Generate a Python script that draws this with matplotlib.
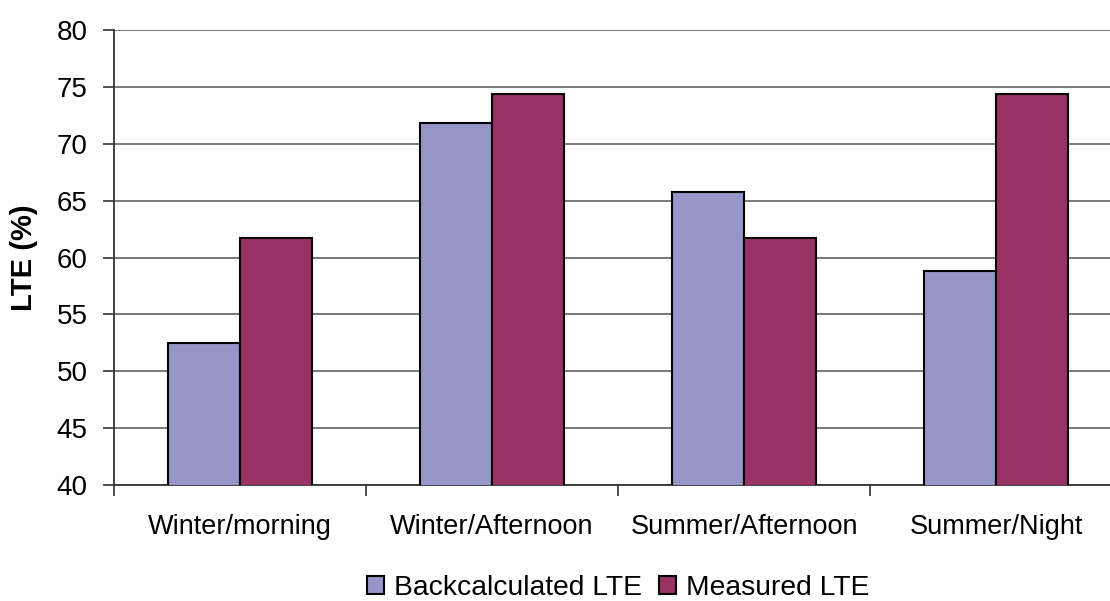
import matplotlib
matplotlib.use("Agg")
import matplotlib.pyplot as plt
import numpy as np

categories = ["Winter/morning", "Winter/Afternoon", "Summer/Afternoon", "Summer/Night"]
backcalculated = [52.5, 71.8, 65.8, 58.8]
measured = [61.7, 74.4, 61.7, 74.4]
series_names = ["Backcalculated LTE", "Measured LTE"]
y_ticks = [40, 45, 50, 55, 60, 65, 70, 75, 80]

plt.rcParams["font.family"] = ["Liberation Sans", "DejaVu Sans"]

W, H = 1110, 601
fig = plt.figure(figsize=(W / 100, H / 100), dpi=100)
ax = fig.add_axes([114 / W, (H - 485) / H, 1008 / W, 455 / H])

x = np.arange(len(categories))
bw = 0.286
ax.bar(x - bw / 2, backcalculated, width=bw, color="#9595C8", edgecolor="black",
       linewidth=1.5, zorder=3, label=series_names[0])
ax.bar(x + bw / 2, measured, width=bw, color="#993366", edgecolor="black",
       linewidth=1.5, zorder=3, label=series_names[1])

ax.set_xlim(-0.5, len(categories) - 0.5)
ax.set_ylim(40, 80)
ax.set_yticks(y_ticks)
ax.yaxis.grid(True, color="#6e6e6e", linewidth=1.3, zorder=0)
ax.set_axisbelow(True)

# category labels centred, tick marks at group boundaries
ax.set_xticks(x)
ax.set_xticklabels(categories, fontsize=19.5)
ax.set_xticks(np.arange(len(categories) + 1) - 0.5, minor=True)
ax.tick_params(axis="x", which="major", length=0, pad=21)
ax.tick_params(axis="x", which="minor", length=8, width=1.2, color="#333333")
ax.tick_params(axis="y", length=8, width=1.2, color="#333333", labelsize=20, pad=11)

for s in ["top", "right"]:
    ax.spines[s].set_visible(False)
for s in ["left", "bottom"]:
    ax.spines[s].set_color("#333333")
    ax.spines[s].set_linewidth(1.3)

ax.set_ylabel("LTE (%)", fontsize=21, fontweight="bold")
ax.yaxis.set_label_coords(-76 / 1008, 0.5)

fig.legend(loc="center", bbox_to_anchor=(618 / W, 1 - 588 / H), ncol=2, frameon=False,
           fontsize=20.3, handlelength=0.62, handleheight=0.62, handletextpad=0.35,
           columnspacing=0.6)

fig.savefig("out.png", dpi=100)
